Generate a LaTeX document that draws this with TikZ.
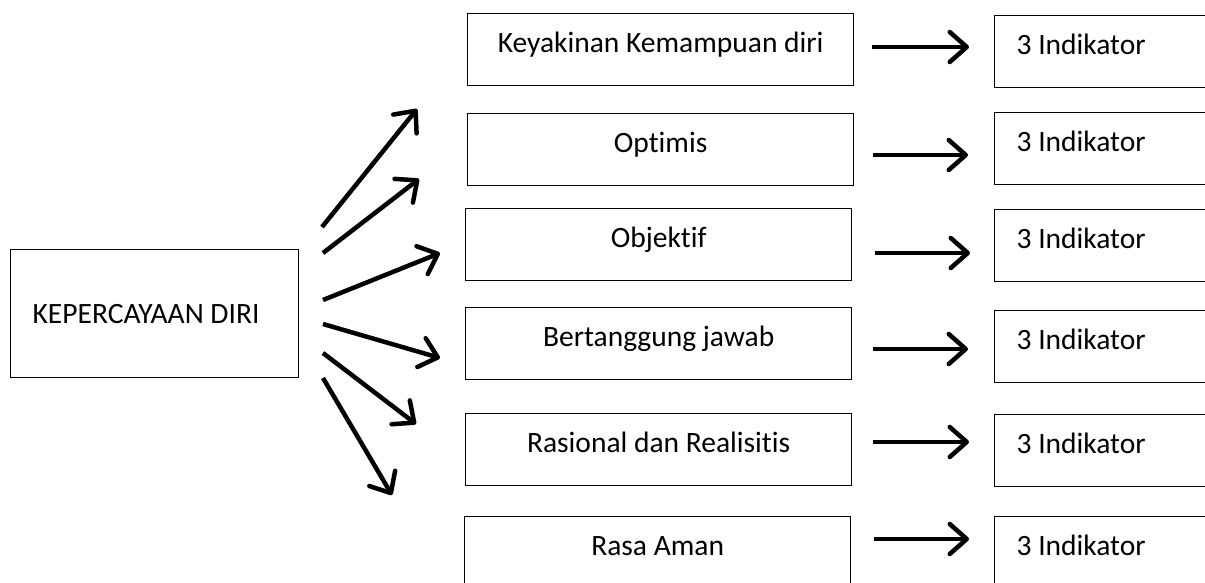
\documentclass[tikz,border=0pt]{standalone}
\usepackage{fontspec}
\setmainfont[Ligatures=NoCommon]{Carlito}
\usetikzlibrary{arrows.meta}

\begin{document}
\begin{tikzpicture}[x=1pt, y=-1pt,
	induk/.style={rectangle, draw=black, line width=1.3pt, minimum width=288pt, minimum height=128pt, anchor=north west, font=\fontsize{29.5}{34}\selectfont},
	aspek/.style={rectangle, draw=black, line width=1.3pt, minimum width=386pt, minimum height=72pt, text height=18pt, text depth=12pt, anchor=north west, font=\fontsize{29.5}{34}\selectfont},
	indik/.style={rectangle, draw=black, line width=1.3pt, minimum width=260pt, minimum height=72pt, text height=18pt, text depth=12pt, anchor=north west, font=\fontsize{29.5}{34}\selectfont},
	panah/.style={line width=4.5pt, -{Straight Barb[length=17pt, width=30pt, round]}},
	]
		\useasboundingbox (0,0) rectangle (1205,582);
		\clip (0,0) rectangle (1205,582);

		%Nodes
		\node[induk]        (KD)        at (10,249)        {\makebox[244pt][l]{KEPERCAYAAN DIRI}};
		\node[aspek]        (KK)        at (467,13)        {Keyakinan Kemampuan diri};
		\node[aspek]        (OP)        at (467,113)       {Optimis};
		\node[aspek]        (OB)        at (465,208)       {Objektif};
		\node[aspek]        (BJ)        at (465,307)       {Bertanggung jawab};
		\node[aspek]        (RR)        at (465,413)       {Rasional dan Realisitis};
		\node[aspek]        (RA)        at (464,516)       {Rasa Aman};
		\node[indik]        (I1)        at (994,15)        {\makebox[216pt][l]{3 Indikator}};
		\node[indik]        (I2)        at (994,112)       {\makebox[216pt][l]{3 Indikator}};
		\node[indik]        (I3)        at (994,209)       {\makebox[216pt][l]{3 Indikator}};
		\node[indik]        (I4)        at (994,310)       {\makebox[216pt][l]{3 Indikator}};
		\node[indik]        (I5)        at (994,414)       {\makebox[216pt][l]{3 Indikator}};
		\node[indik]        (I6)        at (994,516)       {\makebox[216pt][l]{3 Indikator}};

		%Arrow ends
		\coordinate (KDa) at (322,227);   \coordinate (KKa) at (417,109);
		\coordinate (KDb) at (323,253);   \coordinate (OPa) at (419,179);
		\coordinate (KDc) at (323,300);   \coordinate (OBa) at (440,253);
		\coordinate (KDd) at (323,324);   \coordinate (BJa) at (440,358);
		\coordinate (KDe) at (323,353);   \coordinate (RRa) at (416,424);
		\coordinate (KDf) at (323,378);   \coordinate (RAa) at (392,495);
		\coordinate (KKb) at (872,47);    \coordinate (I1a) at (969,47);
		\coordinate (OPb) at (873,155);   \coordinate (I2a) at (968,155);
		\coordinate (OBb) at (875,253);   \coordinate (I3a) at (970,253);
		\coordinate (BJb) at (873,349);   \coordinate (I4a) at (968,349);
		\coordinate (RRb) at (873,442);   \coordinate (I5a) at (969,442);
		\coordinate (RAb) at (874,539);   \coordinate (I6a) at (969,539);

		%Lines
		\draw[panah] (KDa) to (KKa);
		\draw[panah] (KDb) to (OPa);
		\draw[panah] (KDc) to (OBa);
		\draw[panah] (KDd) to (BJa);
		\draw[panah] (KDe) to (RRa);
		\draw[panah] (KDf) to (RAa);
		\draw[panah] (KKb) to (I1a);
		\draw[panah] (OPb) to (I2a);
		\draw[panah] (OBb) to (I3a);
		\draw[panah] (BJb) to (I4a);
		\draw[panah] (RRb) to (I5a);
		\draw[panah] (RAb) to (I6a);
	\end{tikzpicture}
\end{document}
